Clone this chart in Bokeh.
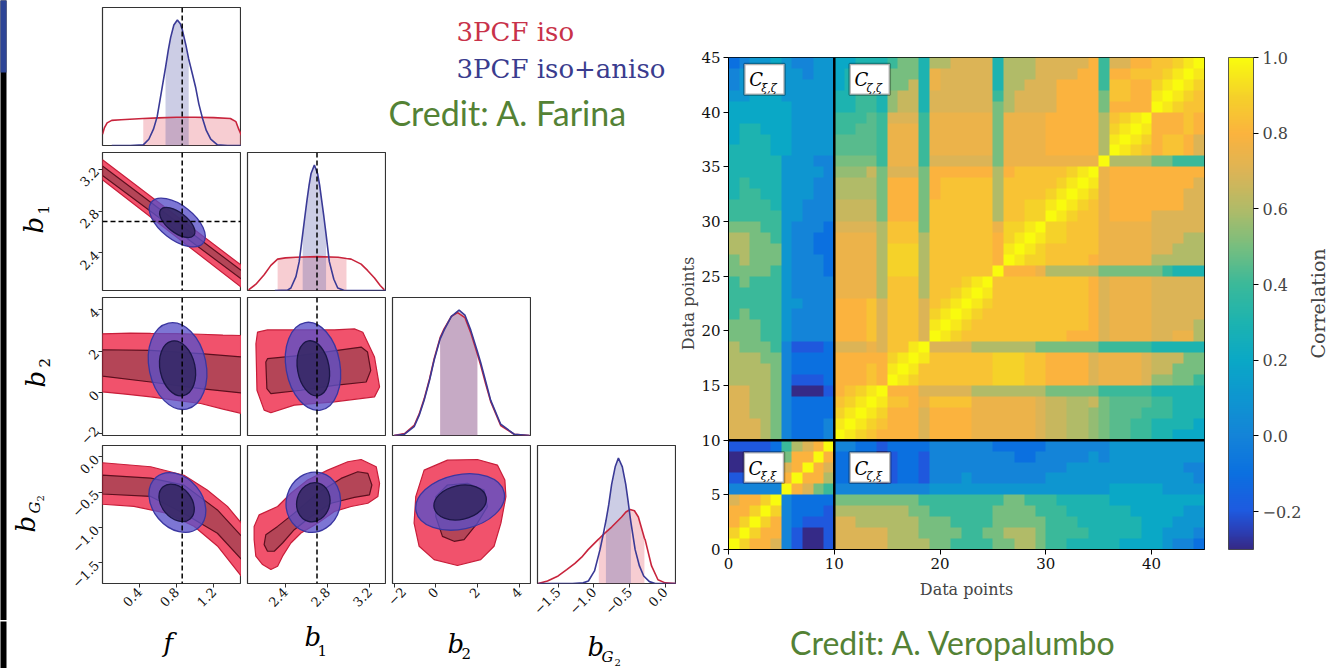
import math
import numpy as np
from bokeh.plotting import figure
from bokeh.layouts import row, column
from bokeh.models import (Range1d, Span, Label, BoxAnnotation, LinearColorMapper, ColorBar,
                          FixedTicker, CustomJSTickFormatter, Spacer)
from bokeh.embed import file_html
from bokeh.resources import INLINE

# ============================ DATA : corner plot ============================
F_TRUE = 0.86
B1_TRUE = 2.7
RANGE_F = (0.0, 1.5)
RANGE_B1 = (2.04, 3.36)
RANGE_B2 = (-2.08, 4.6)
RANGE_BG2 = (-1.79, 0.16)
DEN_RANGE = (0.0, 1.1)
TICKS_F = [0.4, 0.8, 1.2]
TICKS_B1 = [2.4, 2.8, 3.2]
TICKS_B2 = [-2, 0, 2, 4]
TICKS_BG2 = [-1.5, -1.0, -0.5, 0.0]

# 1D marginals (normalised density), "iso" = red, "ani" = blue
f_iso_x = [0.0, 0.02, 0.05, 0.10, 0.20, 0.44, 0.60, 0.80, 1.00, 1.20, 1.38, 1.44, 1.47, 1.50]
f_iso_y = [0.09, 0.14, 0.18, 0.20, 0.205, 0.215, 0.22, 0.225, 0.225, 0.222, 0.215, 0.19, 0.13, 0.08]
f_iso_band = [0.44, 1.50]
f_ani_x = [0.10, 0.30, 0.44, 0.50, 0.55, 0.59, 0.62, 0.652, 0.68, 0.71, 0.735, 0.77, 0.808, 0.84,
           0.862, 0.90, 0.93, 0.97, 1.006, 1.04, 1.078, 1.12, 1.168, 1.24, 1.35, 1.50]
f_ani_y = [0.0, 0.0, 0.005, 0.05, 0.13, 0.23, 0.36, 0.50, 0.62, 0.76, 0.86, 0.96, 1.0, 0.97,
           0.92, 0.80, 0.69, 0.57, 0.46, 0.33, 0.22, 0.12, 0.05, 0.005, 0.0, 0.0]
f_ani_band = [0.68, 0.93]

b1_iso_x = [2.05, 2.12, 2.198, 2.262, 2.326, 2.40, 2.50, 2.70, 2.90, 2.98, 3.024, 3.119, 3.18, 3.246, 3.30, 3.34]
b1_iso_y = [0.005, 0.05, 0.125, 0.20, 0.25, 0.26, 0.265, 0.27, 0.265, 0.255, 0.25, 0.21, 0.16, 0.10, 0.04, 0.005]
b1_iso_band = [2.326, 2.98]
b1_ani_x = [2.30, 2.42, 2.452, 2.50, 2.531, 2.564, 2.585, 2.605, 2.625, 2.643, 2.675, 2.706, 2.725,
            2.744, 2.765, 2.786, 2.817, 2.86, 2.897, 2.96, 3.10, 3.36]
b1_ani_y = [0.0, 0.003, 0.02, 0.11, 0.23, 0.45, 0.59, 0.72, 0.84, 0.93, 1.0, 0.93, 0.84,
            0.72, 0.59, 0.45, 0.23, 0.09, 0.02, 0.0, 0.0, 0.0]
b1_ani_band = [2.564, 2.786]

b2_iso_x = [-2.0, -1.5, -1.04, -0.80, -0.56, -0.30, -0.08, 0.21, 0.40, 0.75, 1.05, 1.40, 1.68, 2.0,
            2.16, 2.40, 2.64, 3.12, 3.77, 4.5]
b2_iso_y = [0.0, 0.015, 0.08, 0.17, 0.29, 0.45, 0.61, 0.78, 0.85, 0.95, 0.98, 0.94, 0.82, 0.65,
            0.56, 0.41, 0.27, 0.08, 0.01, 0.0]
b2_iso_band = [0.21, 2.0]
b2_ani_x = [-2.0, -1.5, -1.04, -0.80, -0.56, -0.30, -0.08, 0.21, 0.40, 0.75, 1.12, 1.40, 1.68, 2.0,
            2.16, 2.40, 2.64, 3.12, 3.77, 4.5]
b2_ani_y = [0.0, 0.01, 0.07, 0.16, 0.28, 0.44, 0.60, 0.77, 0.84, 0.95, 1.0, 0.96, 0.84, 0.67,
            0.58, 0.43, 0.28, 0.09, 0.01, 0.0]
b2_ani_band = [0.21, 2.0]

bg2_iso_x = [-1.78, -1.65, -1.50, -1.38, -1.265, -1.17, -1.08, -0.94, -0.93, -0.85, -0.75, -0.61,
             -0.55, -0.49, -0.43, -0.375, -0.33, -0.29, -0.28, -0.19, -0.10, 0.0, 0.16]
bg2_iso_y = [0.0, 0.02, 0.06, 0.11, 0.16, 0.21, 0.27, 0.35, 0.355, 0.40, 0.45, 0.53,
             0.57, 0.59, 0.58, 0.53, 0.44, 0.36, 0.35, 0.14, 0.03, 0.005, 0.0]
bg2_iso_band = [-0.93, -0.29]
bg2_ani_x = [-1.78, -1.30, -1.15, -1.076, -0.99, -0.913, -0.865, -0.83, -0.79, -0.75, -0.70, -0.655,
             -0.60, -0.552, -0.52, -0.49, -0.48, -0.42, -0.36, -0.30, -0.22, -0.14, 0.16]
bg2_ani_y = [0.0, 0.0, 0.005, 0.02, 0.10, 0.27, 0.40, 0.50, 0.63, 0.79, 0.93, 1.0,
             0.93, 0.79, 0.66, 0.53, 0.49, 0.27, 0.14, 0.06, 0.015, 0.0, 0.0]
bg2_ani_band = [-0.83, -0.48]

# 2D contours: red (iso) 95% / 68% outlines, blue (iso+aniso) ellipses
iso_f_b1_95_x = [0.0, 1.5, 1.5, 0.0]
iso_f_b1_95_y = [3.29, 2.28, 2.07, 3.10]
iso_f_b1_68_x = [0.0, 1.5, 1.5, 0.0]
iso_f_b1_68_y = [3.23, 2.23, 2.15, 3.14]
ani_f_b1 = {"x": 0.807, "y": 2.69, "w95": 0.712, "h95": 0.325, "w68": 0.453, "h68": 0.19, "angle": -38}

iso_f_b2_95_x = [0.0, 0.3, 0.52, 0.8, 1.06, 1.3, 1.5, 1.5, 1.3, 1.06, 0.8, 0.52, 0.25, 0.0]
iso_f_b2_95_y = [2.84, 2.88, 2.86, 2.85, 2.82, 2.78, 2.76, -1.01, -0.80, -0.53, -0.38, -0.21, -0.08, 0.03]
iso_f_b2_68_x = [0.0, 0.52, 1.06, 1.5, 1.5, 1.06, 0.52, 0.0]
iso_f_b2_68_y = [2.07, 2.04, 1.88, 1.72, -0.02, 0.19, 0.51, 0.79]
ani_f_b2 = {"x": 0.81, "y": 1.28, "w95": 0.615, "h95": 4.25, "x68": 0.81, "y68": 1.17,
            "w68": 0.378, "h68": 2.70, "angle": 12}

iso_b1_b2_95_x = [2.135, 2.23, 2.865, 3.055, 3.135, 3.246, 3.294, 3.246, 2.865, 2.484, 2.262, 2.198, 2.13, 2.12]
iso_b1_b2_95_y = [2.92, 3.03, 3.03, 3.08, 2.92, 1.72, 0.27, -0.21, -0.45, -0.61, -0.98, -0.85, 0.11, 2.36]
iso_b1_b2_68_x = [2.23, 2.548, 3.119, 3.18, 3.21, 3.167, 2.865, 2.548, 2.262, 2.224, 2.214]
iso_b1_b2_68_y = [1.64, 1.80, 2.20, 1.96, 1.07, 0.51, 0.35, 0.11, -0.05, 0.19, 1.48]
ani_b1_b2 = {"x": 2.662, "y": 1.27, "w95": 0.513, "h95": 4.3, "x68": 2.665, "y68": 1.17,
             "w68": 0.30, "h68": 2.70, "angle": 10}

iso_f_bg2_95_x = [0.0, 0.52, 0.88, 1.13, 1.348, 1.5, 1.5, 1.24, 0.987, 0.70, 0.339, 0.0]
iso_f_bg2_95_y = [-0.084, -0.14, -0.26, -0.47, -0.70, -0.94, -1.69, -1.26, -0.98, -0.80, -0.70, -0.67]
iso_f_bg2_68_x = [0.0, 0.52, 0.88, 1.24, 1.5, 1.5, 1.24, 0.88, 0.52, 0.0]
iso_f_bg2_68_y = [-0.26, -0.30, -0.40, -0.75, -1.12, -1.45, -1.08, -0.80, -0.56, -0.525]
ani_f_bg2 = {"x": 0.808, "y": -0.646, "w95": 0.712, "h95": 0.70, "x68": 0.80, "y68": -0.65,
             "w68": 0.453, "h68": 0.42, "angle": -50}

iso_b1_bg2_95_x = [2.151, 2.326, 2.452, 2.611, 2.802, 2.992, 3.119, 3.262, 3.294, 3.278, 3.183, 3.024,
                   2.865, 2.706, 2.548, 2.452, 2.373, 2.326, 2.262, 2.183, 2.119, 2.103, 2.103]
iso_b1_bg2_95_y = [-0.82, -0.702, -0.515, -0.328, -0.188, -0.07, -0.038, -0.14, -0.375, -0.562, -0.656, -0.702,
                   -0.772, -0.937, -1.077, -1.218, -1.404, -1.545, -1.593, -1.522, -1.404, -1.171, -0.983]
iso_b1_bg2_68_x = [2.214, 2.326, 2.484, 2.706, 2.929, 3.087, 3.183, 3.221, 3.198, 3.055, 2.834, 2.643,
                   2.484, 2.373, 2.294, 2.230, 2.198]
iso_b1_bg2_68_y = [-1.101, -0.983, -0.796, -0.515, -0.305, -0.211, -0.234, -0.398, -0.539, -0.572, -0.656, -0.843,
                   -1.03, -1.218, -1.334, -1.334, -1.241]
ani_b1_bg2 = {"x": 2.665, "y": -0.642, "w95": 0.513, "h95": 0.857, "w68": 0.313, "h68": 0.56, "angle": -15}

iso_b2_bg2_95_x = [-0.56, 0.56, 2.0, 2.96, 3.32, 3.37, 3.13, 2.80, 2.16, 1.04, -0.08, -0.80, -1.042, -0.962]
iso_b2_bg2_95_y = [-0.188, -0.047, -0.038, -0.117, -0.328, -0.562, -0.937, -1.264, -1.452, -1.536, -1.452,
                   -1.264, -0.937, -0.562]
iso_b2_bg2_68_x = [0.0, 0.56, 1.52, 2.32, 2.48, 2.0, 1.36, 0.88, 0.32, 0.0]
iso_b2_bg2_68_y = [-0.562, -0.398, -0.375, -0.468, -0.703, -0.937, -1.171, -1.194, -1.124, -0.843]
ani_b2_bg2 = {"x": 1.17, "y": -0.637, "w95": 4.33, "h95": 0.77, "x68": 1.17, "y68": -0.645,
              "w68": 2.55, "h68": 0.48, "angle": 12}

# ============================ DATA : correlation matrix ============================
# level code -> correlation (lower case: steps of 0.1, upper case: +0.05)
CORR_LEVEL_CHARS = "abcdefghijklmnABCDEFGHIJKLM"
CORR_LEVEL_VALUES = [-0.3, -0.2, -0.1, 0.0, 0.1, 0.2, 0.3, 0.4, 0.5, 0.6, 0.7, 0.8, 0.9, 1.0,
                     -0.25, -0.15, -0.05, 0.05, 0.15, 0.25, 0.35, 0.45, 0.55, 0.65, 0.75, 0.85, 0.95]
# lower triangle: row r = data point r (y), entries for x = 0..r
CORR_LOWER_ROWS = [
    "n",
    "m n",
    "l m n",
    "l l m n",
    "k l l m n",
    "ddddd n",
    "bbccc l n",
    "aabcc k l n",
    "aabcc i l l n",
    "bbbbc h j k l n",
    "kkkji dcccd n",
    "kkkji dcccd Mn",
    "kkjji dcccc mMn",
    "kkjji dcccc LmMn",
    "kkjji daaab lLmMn",
    "jjjji dbbbc lllLl n",
    "jjjji dcccc lllLl Mn",
    "jjjii dcccc lllll mMn",
    "jiiih dbbbc kkkKk LLMn",
    "iiihh edddd lllLk LLL k n",
    "iiihh edddd lllLk LLL k Mn",
    "hihhh edddd lllLk LLL k mMn",
    "hhhhh eeddd lllLk LLL k LmMn",
    "hhhhh edddd KKKKj LLL j LL m M n",
    "hihhh edddd KKKKj LLL j LLL m M n",
    "iiiih edddc KKKKj mmm j LLLL LL n",
    "ijiii edddc KKKKj mmm j LLLLLL l n",
    "jjiii eddcc KKKKj mmm j LLLLLL l M n",
    "jjiih eddcc KKKKj LLL j LLLLLL l mM n",
    "iiihh edddc kkkkj LLL i LLLLLL K mmM n",
    "hhhhh eeddd JJJJi lll i LLLLLL j LLmm n",
    "hhhhg eeddd JJJJi lll i LLLLLL j LLmm M n",
    "ghhgg eeedd jjjji lll i lLLLLL j LLLL mM n",
    "ghggg eeedd jjjji lll i lLLLLL j LLLL LmM n",
    "ggggg eeeed IIIJi kkk i llllll j lLLL LLmM n",
    "ggggg eeedd iiiih KKK h kkkkkk i KKKK KKKKK n",
    "ggggf feeee HHHHh KKK h KKKKKK i KKKK lllll j n",
    "fgggf feeee HHHHh KKK h KKKKKK i KKKK lllll j M n",
    "fggff feeee hhHHh KKK h KKKKKK i KKKK lllll j mM n",
    "fffff feeee hhhHh kkk h KKKKKK i KKKK lllll j LmM n",
    "fffff feeee gghhg IJJ g kkkkkk i jkkk kllll i llll n",
    "eefff eeeee gghhg IJJ g kkkkkk h jkkk kllll i LLll M n",
    "deeff eeeee fgggg iiJ g Kkkkkk g jjkk kllll h LLll mM n",
    "deeef eedee fgggg iii g Kkkkkk g jjjk kkkll h llLL LmM n",
    "cdeef eddee ffggg hii g jjkkkk g jjjk kkkkl h kkll LLmM n",
]
HEAT_XTICKS = [0, 10, 20, 30, 40]
HEAT_YTICKS = [0, 5, 10, 15, 20, 25, 30, 35, 40, 45]
CBAR_TICKS = [-0.2, 0.0, 0.2, 0.4, 0.6, 0.8, 1.0]
BLOCK_SPLIT = 10
BLOCK_LABELS = [("ξ,ζ", 1.5, 5.3, 41.6, 44.4), ("ζ,ζ", 11.45, 15.25, 41.6, 44.4),
                ("ξ,ξ", 1.45, 5.25, 6.1, 8.9), ("ζ,ξ", 11.45, 15.3, 6.1, 8.9)]

# colormap anchors (value -> colour), parula-like
CMAP_VALS = [-0.3, -0.25, -0.2, -0.1, 0.0, 0.1, 0.2, 0.3, 0.4, 0.5, 0.6, 0.7, 0.8, 0.9, 1.0]
CMAP_COLS = ["#352A87", "#2A40B8", "#1E5AE0", "#0B70E0", "#1484D8", "#0E96D0", "#0AA8C6", "#1DB3B0",
             "#3AB99A", "#77BE7F", "#B0BB68", "#DCB456", "#FBB33E", "#F5D12A", "#F9FB0E"]

# ============================ STYLE ============================
SERIF = "DejaVu Serif"
RED_LINE = "#C8243C"
BLUE_LINE = "#3A3A96"
RED_BAND = "#E8707F"
BLUE_BAND = "#5558A8"
GREEN = "#548235"
FW, FH = 139, 138
RANGES = [RANGE_F, RANGE_B1, RANGE_B2, RANGE_BG2]
TICKS = [TICKS_F, TICKS_B1, TICKS_B2, TICKS_BG2]
BORDER_TOP = [7, 0, 0, 0]
BORDER_BOTTOM = [7, 7, 10, 37]
BASELINE_SHIFT = 0.43   # em offset of Bokeh's alphabetic anchor above the drawn baseline

fmt1 = CustomJSTickFormatter(code="return tick.toFixed(1).replace('-', '\u2212');")
fmt0 = CustomJSTickFormatter(code="return tick.toFixed(0).replace('-', '\u2212');")
FMTS = [fmt1, fmt1, fmt0, fmt1]


def style_axis(ax, ticks, fmt):
    ax.ticker = FixedTicker(ticks=ticks)
    ax.formatter = fmt
    ax.major_label_orientation = math.pi / 4
    ax.major_label_text_font = SERIF
    ax.major_label_text_font_size = "13px"
    ax.major_label_text_color = "#111111"
    ax.major_tick_in = 0
    ax.major_tick_out = 4
    ax.major_tick_line_color = "#333333"
    ax.minor_tick_line_color = None
    ax.axis_line_color = None
    ax.major_label_standoff = 2


def make_panel(i, j):
    xr = RANGES[j]
    yr = DEN_RANGE if i == j else RANGES[i]
    p = figure(x_range=Range1d(*xr), y_range=Range1d(*yr), frame_width=FW, frame_height=FH,
               min_border_left=44 if j == 0 else 6, min_border_right=0,
               min_border_top=BORDER_TOP[i], min_border_bottom=BORDER_BOTTOM[i],
               x_axis_location="below" if i == 3 else None,
               y_axis_location="left" if (j == 0 and i > 0) else None,
               toolbar_location=None, output_backend="svg")
    p.outline_line_color = "#333333"
    p.outline_line_width = 1.2
    p.grid.visible = False
    for ax in p.xaxis:
        style_axis(ax, TICKS[j], FMTS[j])
    for ax in p.yaxis:
        style_axis(ax, TICKS[i], FMTS[i])
    return p


def text_fig(w, h):
    p = figure(width=w, height=h, x_range=Range1d(0, w), y_range=Range1d(h, 0),
               x_axis_location=None, y_axis_location=None, min_border=0,
               toolbar_location=None, output_backend="svg")
    p.outline_line_color = None
    p.grid.visible = False
    return p


def put(p, text, x, y, size, style="normal", angle=0.0, font=SERIF, color="black",
        align="left", baseline="alphabetic"):
    # (x, y) = wanted baseline position in the figure's pixel frame (y grows downward)
    if baseline == "alphabetic":
        if angle == 0.0:
            y = y - BASELINE_SHIFT * size
        else:
            x = x - BASELINE_SHIFT * size
    p.add_layout(Label(x=x, y=y, text=text, angle=angle, text_align=align, text_baseline=baseline,
                       text_font=font, text_font_size=f"{size}px", text_font_style=style,
                       text_color=color))


def band_slice(xs, ys, band):
    lo, hi = band
    idx = [k for k, x in enumerate(xs) if lo - 1e-9 <= x <= hi + 1e-9]
    return [xs[k] for k in idx], [ys[k] for k in idx]


panels = {}
for i in range(4):
    for j in range(i + 1):
        panels[(i, j)] = make_panel(i, j)

MARG = {
    0: ((f_iso_x, f_iso_y, f_iso_band), (f_ani_x, f_ani_y, f_ani_band)),
    1: ((b1_iso_x, b1_iso_y, b1_iso_band), (b1_ani_x, b1_ani_y, b1_ani_band)),
    2: ((b2_iso_x, b2_iso_y, b2_iso_band), (b2_ani_x, b2_ani_y, b2_ani_band)),
    3: ((bg2_iso_x, bg2_iso_y, bg2_iso_band), (bg2_ani_x, bg2_ani_y, bg2_ani_band)),
}
for k, (iso, ani) in MARG.items():
    p = panels[(k, k)]
    bx, by = band_slice(*iso)
    p.varea(x=bx, y1=0, y2=by, fill_color=RED_BAND, fill_alpha=0.35)
    bx, by = band_slice(*ani)
    p.varea(x=bx, y1=0, y2=by, fill_color=BLUE_BAND, fill_alpha=0.30)
    p.line(iso[0], iso[1], line_color=RED_LINE, line_width=1.6)
    p.line(ani[0], ani[1], line_color=BLUE_LINE, line_width=1.6)

TWO_D = {
    (1, 0): (iso_f_b1_95_x, iso_f_b1_95_y, iso_f_b1_68_x, iso_f_b1_68_y, ani_f_b1),
    (2, 0): (iso_f_b2_95_x, iso_f_b2_95_y, iso_f_b2_68_x, iso_f_b2_68_y, ani_f_b2),
    (2, 1): (iso_b1_b2_95_x, iso_b1_b2_95_y, iso_b1_b2_68_x, iso_b1_b2_68_y, ani_b1_b2),
    (3, 0): (iso_f_bg2_95_x, iso_f_bg2_95_y, iso_f_bg2_68_x, iso_f_bg2_68_y, ani_f_bg2),
    (3, 1): (iso_b1_bg2_95_x, iso_b1_bg2_95_y, iso_b1_bg2_68_x, iso_b1_bg2_68_y, ani_b1_bg2),
    (3, 2): (iso_b2_bg2_95_x, iso_b2_bg2_95_y, iso_b2_bg2_68_x, iso_b2_bg2_68_y, ani_b2_bg2),
}
for (i, j), (ox, oy, ix, iy, e) in TWO_D.items():
    p = panels[(i, j)]
    p.patch(ox, oy, fill_color="#F0435F", fill_alpha=0.92, line_color="#C81E3A", line_width=1.2)
    p.patch(ix, iy, fill_color="#B04556", fill_alpha=0.95, line_color="#5C0F1E", line_width=1.2)
    p.ellipse(x=[e["x"]], y=[e["y"]], width=[e["w95"]], height=[e["h95"]], angle=[e["angle"]],
              angle_units="deg", fill_color="#5850C8", fill_alpha=0.78, line_color="#3A36A0", line_width=1.3)
    p.ellipse(x=[e.get("x68", e["x"])], y=[e.get("y68", e["y"])], width=[e["w68"]], height=[e["h68"]],
              angle=[e["angle"]], angle_units="deg", fill_color="#362864", fill_alpha=0.88,
              line_color="#1B1646", line_width=1.3)

# truth lines
for i in range(4):
    panels[(i, 0)].add_layout(Span(location=F_TRUE, dimension="height", line_color="black",
                                   line_dash="5 3", line_width=1.5))
for i in range(1, 4):
    panels[(i, 1)].add_layout(Span(location=B1_TRUE, dimension="height", line_color="black",
                                   line_dash="5 3", line_width=1.5))
panels[(1, 0)].add_layout(Span(location=B1_TRUE, dimension="width", line_color="black",
                               line_dash="5 3", line_width=1.5))

# ---- variable names: y labels (left strip) and x labels (bottom strip)
R90 = math.pi / 2
ylab = text_fig(58, 620)
# slide background sliver at the far left edge
ylab.quad(left=-2, right=6, top=-5, bottom=630, fill_color="black", line_color=None)
ylab.quad(left=-2, right=6, top=-5, bottom=72, fill_color="#2E4596", line_color=None)
put(ylab, "b", 45, 233, 26, "italic", R90)
put(ylab, "1", 49, 214, 15, "normal", R90)
put(ylab, "b", 47, 387, 26, "italic", R90)
put(ylab, "2", 50, 367, 15, "normal", R90)
put(ylab, "b", 37, 532, 26, "italic", R90)
put(ylab, "G", 41, 513, 15, "italic", R90)
put(ylab, "2", 44, 501, 10, "normal", R90)

XLAB_TOP = 620
xlab = text_fig(676, 47)
xlab.quad(left=-2, right=6, top=-5, bottom=55, fill_color="black", line_color=None)
put(xlab, "f", 163, 653 - XLAB_TOP, 26, "italic")
put(xlab, "b", 304, 647 - XLAB_TOP, 26, "italic")
put(xlab, "1", 317, 655 - XLAB_TOP, 15)
put(xlab, "b", 447, 654 - XLAB_TOP, 26, "italic")
put(xlab, "2", 461, 658 - XLAB_TOP, 15)
put(xlab, "b", 587, 657 - XLAB_TOP, 26, "italic")
put(xlab, "G", 601, 662 - XLAB_TOP, 15, "italic")
put(xlab, "2", 614, 665 - XLAB_TOP, 10)

# ---- legend / credit block in the empty upper-right area of the corner plot
filler = text_fig(435, 152)
put(filler, "3PCF iso", 456 - 241, 38, 26, color="#C8324A")
put(filler, "3PCF iso+aniso", 456 - 241, 79, 26, color="#3A3C8E")
put(filler, "Credit: A. Farina", 388 - 241, 130, 34, font="Lato", color=GREEN)

# ============================ heatmap ============================
def decode_rows(rows):
    n = len(rows)
    M = np.zeros((n, n))
    for r, s in enumerate(rows):
        s = s.replace(" ", "")
        if len(s) != r + 1:
            raise ValueError("row %d has %d entries" % (r, len(s)))
        for c, ch in enumerate(s):
            v = CORR_LEVEL_VALUES[CORR_LEVEL_CHARS.index(ch)]
            M[r, c] = v
            M[c, r] = v
    return M


def make_palette(vals, cols, n=256):
    rgb = np.array([[int(c[k:k + 2], 16) for k in (1, 3, 5)] for c in cols], float)
    out = []
    for t in np.linspace(vals[0], vals[-1], n):
        r, g, b = (np.interp(t, vals, rgb[:, m]) for m in range(3))
        out.append("#%02x%02x%02x" % (int(round(r)), int(round(g)), int(round(b))))
    return out


M = decode_rows(CORR_LOWER_ROWS)
palette = make_palette(CMAP_VALS, CMAP_COLS)
mapper = LinearColorMapper(palette=palette, low=-0.3, high=1.0)

heat = figure(x_range=Range1d(0, 45), y_range=Range1d(0, 45), frame_width=476, frame_height=492,
              min_border_left=51, min_border_right=99, min_border_top=57, min_border_bottom=60,
              toolbar_location=None, output_backend="svg")
heat.image(image=[M], x=0, y=0, dw=45, dh=45, color_mapper=mapper)
heat.grid.visible = False
heat.outline_line_color = "black"
heat.outline_line_width = 1
heat.xaxis.ticker = FixedTicker(ticks=HEAT_XTICKS)
heat.yaxis.ticker = FixedTicker(ticks=HEAT_YTICKS)
for ax in list(heat.xaxis) + list(heat.yaxis):
    ax.axis_label = "Data points"
    ax.axis_label_text_font = SERIF
    ax.axis_label_text_font_style = "normal"
    ax.axis_label_text_font_size = "16px"
    ax.major_label_text_font = SERIF
    ax.major_label_text_font_size = "15px"
    ax.major_label_text_color = "#111111"
    ax.major_tick_in = 0
    ax.major_tick_out = 5
    ax.minor_tick_line_color = None
    ax.axis_line_color = "black"
    ax.major_label_standoff = 3
heat.xaxis.axis_label_standoff = 8
heat.yaxis.axis_label_standoff = 0

heat.add_layout(Span(location=BLOCK_SPLIT, dimension="height", line_color="black", line_width=2.5))
heat.add_layout(Span(location=BLOCK_SPLIT, dimension="width", line_color="black", line_width=2.5))

for sub, l, r, b, t in BLOCK_LABELS:
    heat.add_layout(BoxAnnotation(left=l, right=r, bottom=b, top=t, fill_color="white", fill_alpha=1.0,
                                  line_color="black", line_width=2.5))
    cy = (b + t) / 2
    heat.add_layout(Label(x=l + 0.45, y=cy - 0.05, text="C", text_align="left", text_baseline="middle",
                          text_font=SERIF, text_font_size="18px", text_font_style="italic",
                          text_color="black"))
    heat.add_layout(Label(x=l + 1.6, y=cy - 0.8, text=sub, text_align="left", text_baseline="middle",
                          text_font=SERIF, text_font_size="11px", text_font_style="italic",
                          text_color="black"))

# colour bar drawn 24 px to the right of the heatmap frame
cb = ColorBar(color_mapper=mapper, location=(500, 0), width=25, height=492, padding=0, margin=0,
              ticker=FixedTicker(ticks=CBAR_TICKS), formatter=fmt1,
              major_tick_in=0, major_tick_out=5, major_tick_line_color="black",
              minor_tick_line_color=None, bar_line_color="#333333", bar_line_width=0.8,
              major_label_text_font=SERIF, major_label_text_font_size="16px", label_standoff=4,
              background_fill_color=None, border_line_color=None)
heat.add_layout(cb)

# colour-bar title as the (tick-less) left-axis label of a narrow strip
corr_fig = figure(width=29, height=609, x_range=Range1d(0, 1), y_range=Range1d(0, 1),
                  min_border_left=18, min_border_right=0, min_border_top=21, min_border_bottom=0,
                  x_axis_location=None, y_axis_location="left",
                  toolbar_location=None, output_backend="svg")
corr_fig.outline_line_color = None
corr_fig.grid.visible = False
for ax in corr_fig.yaxis:
    ax.ticker = FixedTicker(ticks=[])
    ax.axis_label = "Correlation"
    ax.axis_label_text_font = SERIF
    ax.axis_label_text_font_style = "normal"
    ax.axis_label_text_font_size = "19px"
    ax.axis_label_standoff = 0
    ax.major_tick_out = 0
    ax.major_tick_in = 0
    ax.minor_tick_line_color = None
    ax.axis_line_color = None
    ax.major_label_text_font_size = "1px"
    ax.major_label_standoff = 0

credit_fig = text_fig(655, 58)
put(credit_fig, "Credit: A. Veropalumbo", 953 - 676, 656 - 609, 32, font="Lato", color=GREEN, align="center")

# ============================ layout ============================
r1 = row(panels[(0, 0)], filler)
r2 = row(panels[(1, 0)], panels[(1, 1)], Spacer(width=290, height=145))
r3 = row(panels[(2, 0)], panels[(2, 1)], panels[(2, 2)], Spacer(width=145, height=148))
r4 = row(panels[(3, 0)], panels[(3, 1)], panels[(3, 2)], panels[(3, 3)])
grid = column(r1, r2, r3, r4)
left = column(row(ylab, grid), xlab)
right = column(row(heat, corr_fig), credit_fig)
layout = row(left, right)

with open("out.html", "w", encoding="utf-8") as fh:
    fh.write(file_html(layout, INLINE, "corner and correlation"))
